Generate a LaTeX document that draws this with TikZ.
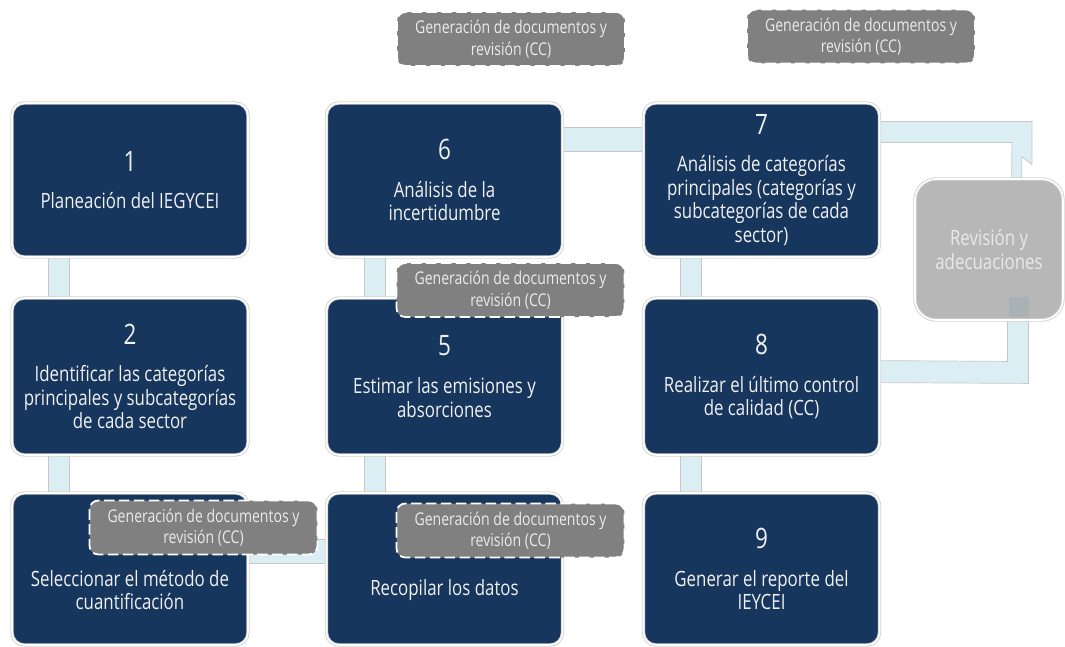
\documentclass[tikz,border=0pt]{standalone}
\usepackage{fontspec}
\setmainfont{Open Sans}[FakeStretch=0.8]
\usetikzlibrary{calc,backgrounds}

% Colors
\definecolor{navy}{HTML}{17365D}
\definecolor{connfill}{HTML}{DBEEF4}
\definecolor{docgrey}{HTML}{808080}
\definecolor{revgrey}{HTML}{B7B7B7}
\definecolor{revtext}{HTML}{E9E9E9}
\definecolor{tipgrey}{HTML}{A8B1B4}

\newcommand{\stepnum}[1]{{\fontsize{16}{16}\selectfont #1}\\[8pt]}

\begin{document}
\begin{tikzpicture}[x=0.02cm, y=-0.02cm,
    stepbox/.style={draw=black!18, double=white, double distance=0.9pt,
                    line width=0.5pt, fill=navy, rounded corners=7pt,
                    minimum width=4.72cm, inner sep=0pt, align=center,
                    text=white!94!black, font=\fontsize{12}{13.4}\selectfont},
    revbox/.style={stepbox, fill=revgrey, text=revtext, rounded corners=12pt,
                   minimum width=2.96cm, minimum height=2.82cm},
    docbox/.style={fill=docgrey, draw=white, dashed, dash pattern=on 6pt off 2.5pt,
                   line width=1pt, rounded corners=5pt, minimum width=4.56cm,
                   minimum height=1.08cm, inner sep=0pt, align=center,
                   text=white!92!black, font=\fontsize{10}{12.3}\selectfont},
    conn/.style={fill=connfill, draw=black!22, line width=0.4pt},
]
\useasboundingbox (0,0) rectangle (1065,646);

% === Steps ===
\node[stepbox, minimum height=3.08cm] (b1) at (130,180)     {\stepnum{1}Planeación del IEGYCEI};
\node[stepbox, minimum height=3.14cm] (b2) at (130,376.5)   {\stepnum{2}Identificar las categorías\\principales y subcategorías\\de cada sector};
\node[stepbox, minimum height=3.04cm] (b3) at (130,569)     {\stepnum{3}Seleccionar el método de\\cuantificación};
\node[stepbox, minimum height=3.04cm] (b4) at (444.5,569)   {\stepnum{4}Recopilar los datos};
\node[stepbox, minimum height=3.14cm] (b5) at (444.5,376.5) {\stepnum{5}Estimar las emisiones y\\absorciones};
\node[stepbox, minimum height=3.08cm] (b6) at (444.5,180)   {\stepnum{6}Análisis de la\\incertidumbre};
\node[stepbox, minimum height=3.08cm] (b7) at (761.5,180)   {\stepnum{7}Análisis de categorías\\principales (categorías y\\subcategorías de cada\\sector)};
\node[stepbox, minimum height=3.14cm] (b8) at (761.5,376.5) {\stepnum{8}Realizar el último control\\de calidad (CC)};
\node[stepbox, minimum height=3.04cm] (b9) at (761.5,569)   {\stepnum{9}Generar el reporte del\\IEYCEI};
\node[revbox] (rev) at (989,249.5) {Revisión y\\adecuaciones};

% tip of the 8 -> revision arrow, seen through the box
\fill[tipgrey] ($(rev.south west)+(94,-23)$) rectangle ++(20,20);

% === Connectors ===
\begin{scope}[on background layer]
\filldraw[conn] ($(b1.south west)+(37,-2)$) rectangle ($(b2.north west)+(58,2)$);
\filldraw[conn] ($(b2.south west)+(37,-2)$) rectangle ($(b3.north west)+(58,2)$);
\filldraw[conn] ($(b3.north east)+(-2,47)$) rectangle ($(b4.north west)+(2,71)$);
\filldraw[conn] ($(b4.north west)+(38,2)$) rectangle ($(b5.south west)+(59,-2)$);
\filldraw[conn] ($(b5.north west)+(38,2)$) rectangle ($(b6.south west)+(59,-2)$);
\filldraw[conn] ($(b6.north east)+(-2,25)$) rectangle ($(b7.north west)+(2,49)$);
\filldraw[conn] ($(b7.south west)+(37,-2)$) rectangle ($(b8.north west)+(58,2)$);
\filldraw[conn] ($(b8.south west)+(37,-2)$) rectangle ($(b9.north west)+(58,2)$);
% 7 -> revision
\filldraw[conn] ($(b7.north east)+(-3,19)$) -- ++(155,0) -- ++(0,43) -- ++(-10,-8)
  -- ($(rev.north west)+(107,4)$) -- ++(-10,0) -- ($(b7.north east)+(132,40)$)
  -- ($(b7.north east)+(-3,40)$) -- cycle;
% 8 -> revision
\filldraw[conn] ($(b8.north east)+(-3,63)$) -- ($(rev.south west)+(93,41)$)
  -- ($(rev.south west)+(93,-3)$) -- ++(21,0) -- ($(rev.south west)+(114,63)$)
  -- ($(b8.north east)+(-3,85)$) -- cycle;
\end{scope}

% === Document generation notes ===
\node[docbox] (d1) at (511,39)      {Generación de documentos y\\revisión (CC)};
\node[docbox] (d2) at (861,36.5)    {Generación de documentos y\\revisión (CC)};
\node[docbox] (d3) at (510.5,290)   {Generación de documentos y\\revisión (CC)};
\node[docbox] (d4) at (203.5,527.5) {Generación de documentos y\\revisión (CC)};
\node[docbox] (d5) at (510.5,530.5) {Generación de documentos y\\revisión (CC)};
\end{tikzpicture}
\end{document}
